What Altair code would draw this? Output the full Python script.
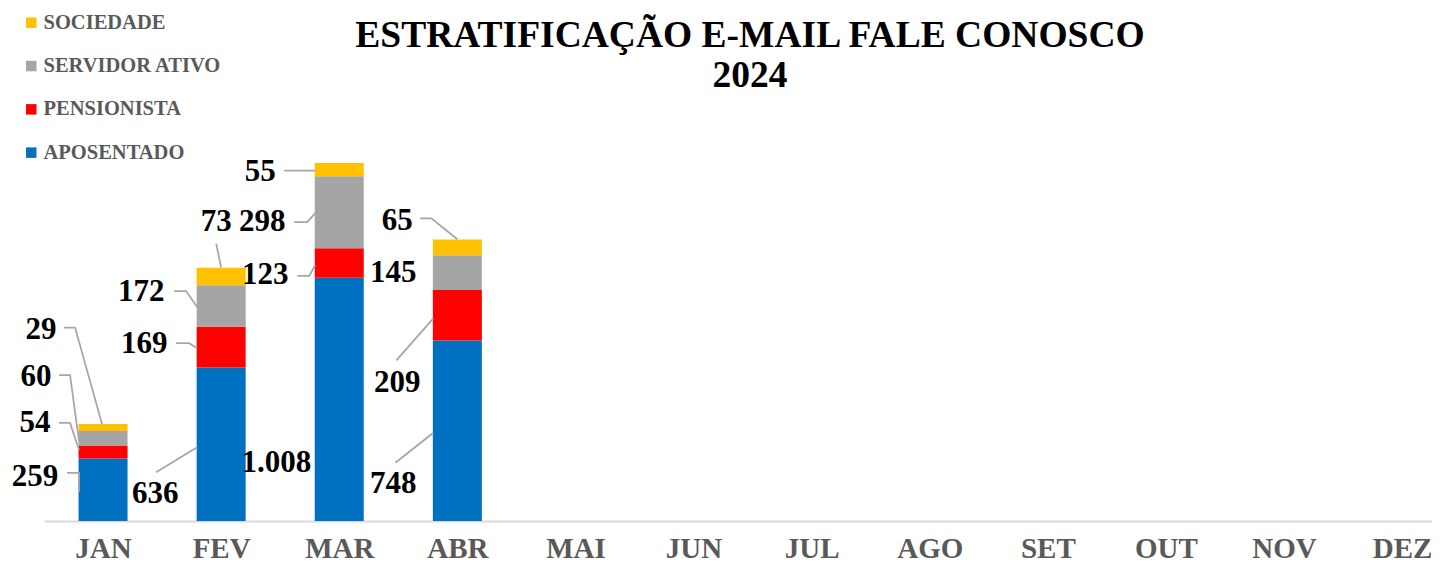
import altair as alt
import pandas as pd

# ---------------- data ----------------
months = ["JAN", "FEV", "MAR", "ABR", "MAI", "JUN", "JUL", "AGO", "SET", "OUT", "NOV", "DEZ"]
series_bottom_to_top = ["APOSENTADO", "PENSIONISTA", "SERVIDOR ATIVO", "SOCIEDADE"]
aposentado = [259, 636, 1008, 748]
pensionista = [54, 169, 123, 209]
servidor_ativo = [60, 172, 298, 145]
sociedade = [29, 73, 55, 65]
legend_order = ["SOCIEDADE", "SERVIDOR ATIVO", "PENSIONISTA", "APOSENTADO"]
legend_colors = ["#FFC000", "#A5A5A5", "#FF0000", "#0070C0"]
title_line1 = "ESTRATIFICAÇÃO E-MAIL FALE CONOSCO"
title_line2 = "2024"

values_by_series = {
    "APOSENTADO": aposentado,
    "PENSIONISTA": pensionista,
    "SERVIDOR ATIVO": servidor_ativo,
    "SOCIEDADE": sociedade,
}

# ---------------- layout ----------------
PAD_L, PAD_T, PAD_R, PAD_B = 36, 92, 0, 43
PLOT_W, PLOT_H = 1388, 421
STEP = 118.1                      # px per month
X_MIN = -0.5
X_MAX = X_MIN + PLOT_W / STEP
Y_MAX = 1745.0
PX_Y = PLOT_H / Y_MAX             # px per unit
BAR_HALF = 24.5 / STEP
TITLE_X = 706
TITLE_Y1, TITLE_Y2 = -53, -13

# label placement (pixel offsets from bar centre / segment middle) and leader lines
label_layout = {
    (0, "APOSENTADO"): ((-68, -13), [(-36, -17), (-24, -17), (-24, 2)]),
    (0, "PENSIONISTA"): ((-68, -29), [(-44, -29), (-33, -29), (-24, -2)]),
    (0, "SERVIDOR ATIVO"): ((-67, -61), [(-44, -63), (-33, -63), (-24, 3)]),
    (0, "SOCIEDADE"): ((-62, -97.5), [(-39, -100), (-28, -100), (-1, -3.5)]),
    (1, "APOSENTADO"): ((-66, 50), [(-65, 28), (-24, 3)]),
    (1, "PENSIONISTA"): ((-77, -3), [(-45, -4), (-32, -4), (-24, 1)]),
    (1, "SERVIDOR ATIVO"): ((-80, -14), [(-47, -15), (-35, -15), (-24, 1)]),
    (1, "SOCIEDADE"): ((-5, -54.5), [(-5, -33), (0, -9)]),
    (2, "APOSENTADO"): ((-63, 63.6), []),
    (2, "PENSIONISTA"): ((-74, 12), [(-42, 13), (-30, 13), (-24, 2)]),
    (2, "SERVIDOR ATIVO"): ((-77, 10), [(-45, 10), (-32, 10), (-24, 1)]),
    (2, "SOCIEDADE"): ((-79, 2.4), [(-55, 1), (-24, 1)]),
    (3, "APOSENTADO"): ((-64, 53), [(-62, 32), (-24, 2)]),
    (3, "PENSIONISTA"): ((-60, 68), [(-61, 45), (-24, 3)]),
    (3, "SERVIDOR ATIVO"): ((-64, 0.4), []),
    (3, "SOCIEDADE"): ((-60, -26), [(-37, -29), (-26, -29), (0, -8)]),
}

# ---------------- tables ----------------
rows = []
for i in range(len(aposentado)):
    for k, s in enumerate(series_bottom_to_top):
        rows.append({"month": months[i], "idx": i, "series": s, "ord": k,
                     "value": values_by_series[s][i]})
bars_df = pd.DataFrame(rows)

def fmt(v):
    return f"{v:,}".replace(",", ".")

text_rows, line_rows = [], []
for i in range(len(aposentado)):
    base = 0
    for s in series_bottom_to_top:
        v = values_by_series[s][i]
        mid = base + v / 2
        base += v
        (dx, dy), pts = label_layout[(i, s)]
        text_rows.append({"lx": i + dx / STEP, "ly": mid - dy / PX_Y, "label": fmt(v)})
        for j, (px, py) in enumerate(pts):
            line_rows.append({"id": f"{i}-{s}", "o": j,
                              "px": i + px / STEP, "py": mid - py / PX_Y})
text_df = pd.DataFrame(text_rows)
line_df = pd.DataFrame(line_rows)
title_df = pd.DataFrame({"t": [title_line1, title_line2], "line": [1, 2]})

x_scale = alt.Scale(domain=[X_MIN, X_MAX], nice=False, zero=False)
y_scale = alt.Scale(domain=[0, Y_MAX], nice=False, zero=True)

label_expr = "[" + ",".join(f"'{m}'" for m in months) + "][datum.value]"

x_axis = alt.Axis(
    values=list(range(len(months))), labelExpr=label_expr, title=None, grid=False,
    ticks=False, tickSize=0, domainColor="#D9D9D9", domainWidth=2,
    labelFont="Liberation Serif", labelFontSize=29, labelFontWeight="bold",
    labelColor="#595959", labelPadding=36.5, labelBaseline="alphabetic",
    labelFlush=False, labelOverlap=False,
)

bars = alt.Chart(bars_df).transform_stack(
    stack="value", groupby=["month"], as_=["y0", "y1"],
    sort=[alt.SortField("ord", order="ascending")],
).transform_calculate(
    x0=f"datum.idx - {BAR_HALF}", x1=f"datum.idx + {BAR_HALF}"
).mark_bar().encode(
    x=alt.X("x0:Q", scale=x_scale, axis=x_axis),
    x2="x1:Q",
    y=alt.Y("y0:Q", scale=y_scale, axis=None),
    y2="y1:Q",
    color=alt.Color(
        "series:N",
        scale=alt.Scale(domain=legend_order, range=legend_colors),
        legend=alt.Legend(
            orient="none", legendX=-23, legendY=-87.5, title=None,
            symbolType="square", symbolSize=110, symbolStrokeWidth=0,
            labelFont="Liberation Serif", labelFontSize=20.5, labelFontWeight="bold",
            labelColor="#595959", rowPadding=22.3, labelOffset=2, padding=0,
            labelLimit=0, direction="vertical",
        ),
    ),
)

leaders = alt.Chart(line_df).mark_line(color="#A6A6A6", strokeWidth=1.75).encode(
    x=alt.X("px:Q", scale=x_scale, axis=x_axis),
    y=alt.Y("py:Q", scale=y_scale, axis=None),
    detail="id:N",
    order="o:Q",
)

labels = alt.Chart(text_df).mark_text(
    font="Liberation Serif", fontSize=31, fontWeight="bold", color="black",
    align="center", baseline="middle",
).encode(
    x=alt.X("lx:Q", scale=x_scale, axis=x_axis),
    y=alt.Y("ly:Q", scale=y_scale, axis=None),
    text="label:N",
)

title1 = alt.Chart(title_df).transform_filter("datum.line == 1").mark_text(
    font="Liberation Serif", fontSize=37.5, fontWeight="bold", color="black",
    align="center", baseline="alphabetic",
).encode(x=alt.value(TITLE_X), y=alt.value(TITLE_Y1), text="t:N")

title2 = alt.Chart(title_df).transform_filter("datum.line == 2").mark_text(
    font="Liberation Serif", fontSize=37.5, fontWeight="bold", color="black",
    align="center", baseline="alphabetic",
).encode(x=alt.value(TITLE_X), y=alt.value(TITLE_Y2), text="t:N")

chart = alt.layer(bars, leaders, labels, title1, title2).properties(
    width=PLOT_W, height=PLOT_H,
    autosize=alt.AutoSizeParams(type="none"),
    padding={"left": PAD_L, "top": PAD_T, "right": PAD_R, "bottom": PAD_B},
    background="white",
).configure_view(stroke=None)

chart.save("out.html", embed_options={"renderer": "svg", "actions": False})
